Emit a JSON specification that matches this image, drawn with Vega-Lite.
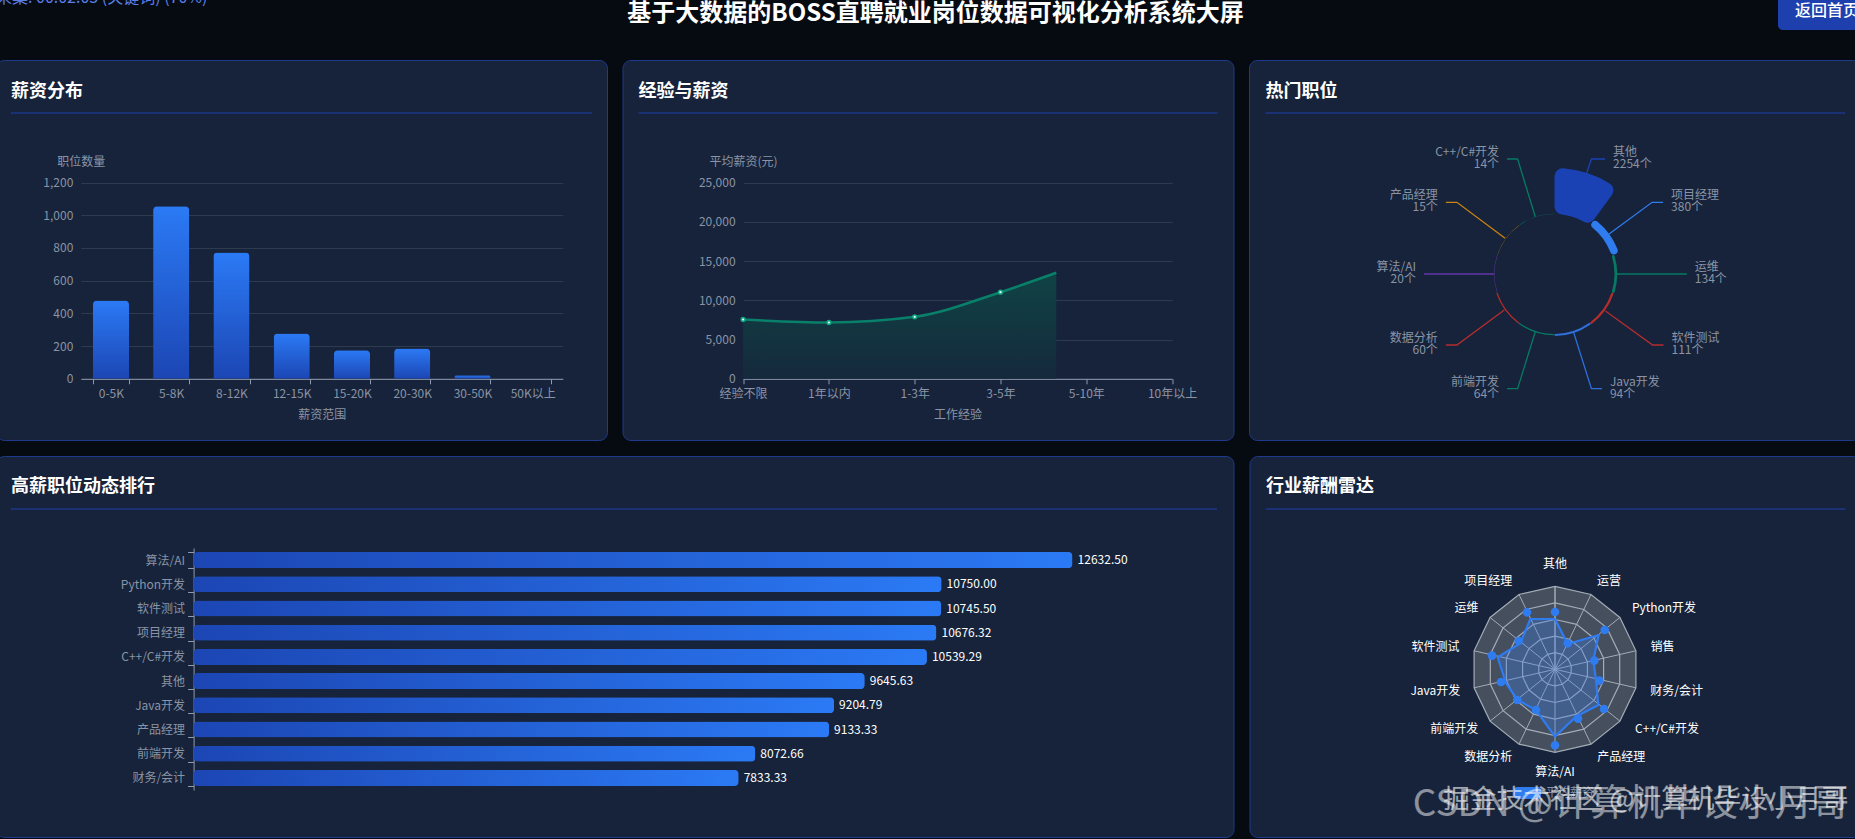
{
  "$schema": "https://vega.github.io/schema/vega-lite/v6.json",
  "background": "#060a11",
  "padding": {"left": -5, "right": -5, "top": 0, "bottom": 2},
  "config": {
    "font": "Noto Sans CJK SC",
    "view": {"stroke": null},
    "axis": {
      "labelColor": "#8a94a6", "titleColor": "#8a94a6", "labelFontSize": 12, "titleFontSize": 12,
      "titleFontWeight": "normal", "domainColor": "#8f9bb0", "tickColor": "#8f9bb0", "gridColor": "#2e3b4e",
      "labelOverlap": false, "labelFlush": false
    }
  },
  "datasets": {
    "radarGrid": [
      {"ring":1,"k":0,"x":0,"y":-16.6},{"ring":1,"k":1,"x":7.2,"y":-15},{"ring":1,"k":2,"x":13,"y":-10.4},{"ring":1,"k":3,"x":16.2,"y":-3.7},{"ring":1,"k":4,"x":16.2,"y":3.7},{"ring":1,"k":5,"x":13,"y":10.4},{"ring":1,"k":6,"x":7.2,"y":15},{"ring":1,"k":7,"x":0,"y":16.6},{"ring":1,"k":8,"x":-7.2,"y":15},{"ring":1,"k":9,"x":-13,"y":10.4},{"ring":1,"k":10,"x":-16.2,"y":3.7},{"ring":1,"k":11,"x":-16.2,"y":-3.7},{"ring":1,"k":12,"x":-13,"y":-10.4},{"ring":1,"k":13,"x":-7.2,"y":-15},{"ring":1,"k":14,"x":0,"y":-16.6},
      {"ring":2,"k":0,"x":0,"y":-33.2},{"ring":2,"k":1,"x":14.4,"y":-29.9},{"ring":2,"k":2,"x":26,"y":-20.7},{"ring":2,"k":3,"x":32.4,"y":-7.4},{"ring":2,"k":4,"x":32.4,"y":7.4},{"ring":2,"k":5,"x":26,"y":20.7},{"ring":2,"k":6,"x":14.4,"y":29.9},{"ring":2,"k":7,"x":0,"y":33.2},{"ring":2,"k":8,"x":-14.4,"y":29.9},{"ring":2,"k":9,"x":-26,"y":20.7},{"ring":2,"k":10,"x":-32.4,"y":7.4},{"ring":2,"k":11,"x":-32.4,"y":-7.4},{"ring":2,"k":12,"x":-26,"y":-20.7},{"ring":2,"k":13,"x":-14.4,"y":-29.9},{"ring":2,"k":14,"x":0,"y":-33.2},
      {"ring":3,"k":0,"x":0,"y":-49.8},{"ring":3,"k":1,"x":21.6,"y":-44.9},{"ring":3,"k":2,"x":38.9,"y":-31.1},{"ring":3,"k":3,"x":48.6,"y":-11.1},{"ring":3,"k":4,"x":48.6,"y":11.1},{"ring":3,"k":5,"x":38.9,"y":31.1},{"ring":3,"k":6,"x":21.6,"y":44.9},{"ring":3,"k":7,"x":0,"y":49.8},{"ring":3,"k":8,"x":-21.6,"y":44.9},{"ring":3,"k":9,"x":-38.9,"y":31.1},{"ring":3,"k":10,"x":-48.6,"y":11.1},{"ring":3,"k":11,"x":-48.6,"y":-11.1},{"ring":3,"k":12,"x":-38.9,"y":-31.1},{"ring":3,"k":13,"x":-21.6,"y":-44.9},{"ring":3,"k":14,"x":0,"y":-49.8},
      {"ring":4,"k":0,"x":0,"y":-66.4},{"ring":4,"k":1,"x":28.8,"y":-59.8},{"ring":4,"k":2,"x":51.9,"y":-41.4},{"ring":4,"k":3,"x":64.7,"y":-14.8},{"ring":4,"k":4,"x":64.7,"y":14.8},{"ring":4,"k":5,"x":51.9,"y":41.4},{"ring":4,"k":6,"x":28.8,"y":59.8},{"ring":4,"k":7,"x":0,"y":66.4},{"ring":4,"k":8,"x":-28.8,"y":59.8},{"ring":4,"k":9,"x":-51.9,"y":41.4},{"ring":4,"k":10,"x":-64.7,"y":14.8},{"ring":4,"k":11,"x":-64.7,"y":-14.8},{"ring":4,"k":12,"x":-51.9,"y":-41.4},{"ring":4,"k":13,"x":-28.8,"y":-59.8},{"ring":4,"k":14,"x":0,"y":-66.4},
      {"ring":5,"k":0,"x":0,"y":-83},{"ring":5,"k":1,"x":36,"y":-74.8},{"ring":5,"k":2,"x":64.9,"y":-51.8},{"ring":5,"k":3,"x":80.9,"y":-18.5},{"ring":5,"k":4,"x":80.9,"y":18.5},{"ring":5,"k":5,"x":64.9,"y":51.8},{"ring":5,"k":6,"x":36,"y":74.8},{"ring":5,"k":7,"x":0,"y":83},{"ring":5,"k":8,"x":-36,"y":74.8},{"ring":5,"k":9,"x":-64.9,"y":51.8},{"ring":5,"k":10,"x":-80.9,"y":18.5},{"ring":5,"k":11,"x":-80.9,"y":-18.5},{"ring":5,"k":12,"x":-64.9,"y":-51.8},{"ring":5,"k":13,"x":-36,"y":-74.8},{"ring":5,"k":14,"x":0,"y":-83}
    ],
    "radarSeries": [
      {"job":"其他","k":0,"lx":0,"ly":-50.3,"px":0,"py":-57.3},
      {"job":"运营","k":1,"lx":12.7,"ly":-25.3,"px":12.7,"py":-26},
      {"job":"Python开发","k":2,"lx":43.7,"ly":-34.3,"px":49.7,"py":-39.3},
      {"job":"销售","k":3,"lx":38.3,"ly":-9.3,"px":39.3,"py":-8.7},
      {"job":"财务/会计","k":4,"lx":41,"ly":10.7,"px":44.3,"py":11.3},
      {"job":"C++/C#开发","k":5,"lx":43.3,"ly":35.7,"px":49,"py":39.7},
      {"job":"产品经理","k":6,"lx":21,"ly":47.3,"px":23,"py":49.3},
      {"job":"算法/AI","k":7,"lx":0,"ly":67.3,"px":0,"py":76},
      {"job":"数据分析","k":8,"lx":-19,"ly":40.7,"px":-19,"py":40.7},
      {"job":"前端开发","k":9,"lx":-37.3,"ly":30.7,"px":-37.7,"py":30.7},
      {"job":"Java开发","k":10,"lx":-49,"ly":14,"px":-54,"py":12.7},
      {"job":"软件测试","k":11,"lx":-57.3,"ly":-12,"px":-63,"py":-13.7},
      {"job":"运维","k":12,"lx":-34.7,"ly":-26,"px":-36.3,"py":-28.3},
      {"job":"项目经理","k":13,"lx":-24.7,"ly":-50.3,"px":-28,"py":-57},
      {"job":"其他","k":14,"lx":0,"ly":-50.3,"px":0,"py":-57.3}
    ],
    "radarLabels": [
      {"job":"其他","x":0,"y":-105},{"job":"运营","x":54.1,"y":-88.7},{"job":"Python开发","x":109,"y":-61.7},{"job":"销售","x":107.5,"y":-22.7},
      {"job":"财务/会计","x":121.6,"y":21.3},{"job":"C++/C#开发","x":112,"y":60},{"job":"产品经理","x":66.3,"y":87.3},{"job":"算法/AI","x":0,"y":103},
      {"job":"数据分析","x":-66.7,"y":87.3},{"job":"前端开发","x":-100.8,"y":60},{"job":"Java开发","x":-119.6,"y":21.3},{"job":"软件测试","x":-119.6,"y":-22.7},
      {"job":"运维","x":-88.6,"y":-61.7},{"job":"项目经理","x":-66.7,"y":-88.7}
    ],
    "hotJobs": [
      {"job":"其他","postings":2254,"slot":0,"slotEnd":1},{"job":"项目经理","postings":380,"slot":1,"slotEnd":2},{"job":"运维","postings":134,"slot":2,"slotEnd":3},{"job":"软件测试","postings":111,"slot":3,"slotEnd":4},{"job":"Java开发","postings":94,"slot":4,"slotEnd":5},
      {"job":"前端开发","postings":64,"slot":5,"slotEnd":6},{"job":"数据分析","postings":60,"slot":6,"slotEnd":7},{"job":"算法/AI","postings":20,"slot":7,"slotEnd":8},{"job":"产品经理","postings":15,"slot":8,"slotEnd":9},{"job":"C++/C#开发","postings":14,"slot":9,"slotEnd":10}
    ],
    "hotLeaders": [
      {"job":"其他","ord":0,"x":32.4,"y":-100.7,"label":"其他\n2254个"},{"job":"其他","ord":1,"x":37.2,"y":-115,"label":"其他\n2254个"},{"job":"其他","ord":2,"x":51,"y":-115,"label":"其他\n2254个"},
      {"job":"项目经理","ord":0,"x":55,"y":-40,"label":"项目经理\n380个"},{"job":"项目经理","ord":1,"x":98.4,"y":-71.7,"label":"项目经理\n380个"},{"job":"项目经理","ord":2,"x":109.5,"y":-71.7,"label":"项目经理\n380个"},
      {"job":"运维","ord":0,"x":63,"y":0,"label":"运维\n134个"},{"job":"运维","ord":1,"x":122.3,"y":0,"label":"运维\n134个"},{"job":"运维","ord":2,"x":133.4,"y":0,"label":"运维\n134个"},
      {"job":"软件测试","ord":0,"x":51.4,"y":37,"label":"软件测试\n111个"},{"job":"软件测试","ord":1,"x":98.9,"y":71,"label":"软件测试\n111个"},{"job":"软件测试","ord":2,"x":109.9,"y":71,"label":"软件测试\n111个"},
      {"job":"Java开发","ord":0,"x":19.4,"y":58.7,"label":"Java开发\n94个"},{"job":"Java开发","ord":1,"x":37.2,"y":114.7,"label":"Java开发\n94个"},{"job":"Java开发","ord":2,"x":47.8,"y":114.7,"label":"Java开发\n94个"},
      {"job":"前端开发","ord":0,"x":-19.4,"y":57.7,"label":"前端开发\n64个"},{"job":"前端开发","ord":1,"x":-37.2,"y":114.7,"label":"前端开发\n64个"},{"job":"前端开发","ord":2,"x":-47.8,"y":114.7,"label":"前端开发\n64个"},
      {"job":"数据分析","ord":0,"x":-50.6,"y":36,"label":"数据分析\n60个"},{"job":"数据分析","ord":1,"x":-98.4,"y":71,"label":"数据分析\n60个"},{"job":"数据分析","ord":2,"x":-109.5,"y":71,"label":"数据分析\n60个"},
      {"job":"算法/AI","ord":0,"x":-60.9,"y":0,"label":"算法/AI\n20个"},{"job":"算法/AI","ord":1,"x":-122.1,"y":0,"label":"算法/AI\n20个"},{"job":"算法/AI","ord":2,"x":-131.6,"y":0,"label":"算法/AI\n20个"},
      {"job":"产品经理","ord":0,"x":-49.8,"y":-35.7,"label":"产品经理\n15个"},{"job":"产品经理","ord":1,"x":-98.4,"y":-71.7,"label":"产品经理\n15个"},{"job":"产品经理","ord":2,"x":-109.5,"y":-71.7,"label":"产品经理\n15个"},
      {"job":"C++/C#开发","ord":0,"x":-19.4,"y":-57.3,"label":"C++/C#开发\n14个"},{"job":"C++/C#开发","ord":1,"x":-37.2,"y":-115,"label":"C++/C#开发\n14个"},{"job":"C++/C#开发","ord":2,"x":-47.8,"y":-115,"label":"C++/C#开发\n14个"}
    ]
  },
  "spacing": 15,
  "vconcat": [
    {
      "width": 1865,
      "height": 44,
      "layer": [
        {
          "data": {"values": [{"text": "采集: 00:02:03 (关键词) (70%)"}]},
          "mark": {"type": "text", "align": "left", "baseline": "middle", "fontSize": 16, "color": "#5b7fe8", "clip": true},
          "encoding": {
            "x": {"datum": 0, "type": "quantitative", "scale": {"domain": [0, 1865]}, "axis": null},
            "y": {"datum": -2, "type": "quantitative", "scale": {"domain": [0, 44], "range": [0, 44]}, "axis": null},
            "text": {"field": "text"}
          }
        },
        {
          "data": {"values": [{"text": "基于大数据的BOSS直聘就业岗位数据可视化分析系统大屏"}]},
          "mark": {"type": "text", "align": "center", "baseline": "middle", "fontSize": 24, "fontWeight": "bold", "color": "#ffffff", "clip": true},
          "encoding": {
            "x": {"datum": 939.5, "type": "quantitative", "scale": {"domain": [0, 1865]}, "axis": null},
            "y": {"datum": 14, "type": "quantitative", "scale": {"domain": [0, 44], "range": [0, 44]}, "axis": null},
            "text": {"field": "text"}
          }
        },
        {
          "data": {"values": [{"text": "返回首页"}]},
          "mark": {"type": "rect", "color": "#1e40af", "cornerRadius": 5, "clip": true},
          "encoding": {
            "x": {"datum": 1782, "type": "quantitative", "scale": {"domain": [0, 1865]}, "axis": null},
            "x2": {"datum": 1885},
            "y": {"datum": -10, "type": "quantitative", "scale": {"domain": [0, 44], "range": [0, 44]}, "axis": null},
            "y2": {"datum": 30}
          }
        },
        {
          "data": {"values": [{"text": "返回首页"}]},
          "mark": {"type": "text", "align": "left", "baseline": "middle", "fontSize": 16, "fontWeight": 500, "color": "#ffffff", "clip": true},
          "encoding": {
            "x": {"datum": 1799, "type": "quantitative", "scale": {"domain": [0, 1865]}, "axis": null},
            "y": {"datum": 11, "type": "quantitative", "scale": {"domain": [0, 44], "range": [0, 44]}, "axis": null},
            "text": {"field": "text"}
          }
        }
      ]
    },
    {
      "spacing": 8,
      "vconcat": [
        {
          "spacing": 15.5,
          "bounds": "flush",
          "hconcat": [
            {
              "width": 611,
              "height": 380,
              "view": {"fill": "#16233a", "stroke": "#1e3a8a", "cornerRadius": 8},
              "resolve": {"scale": {"x": "independent", "y": "independent"}},
              "layer": [
                {
                  "data": {"values": [{"title": "薪资分布"}]},
                  "encoding": {
                    "x": {"datum": 0, "type": "quantitative", "scale": {"domain": [0, 1], "range": [15, 596]}, "axis": null},
                    "y": {"datum": 0, "type": "quantitative", "scale": {"domain": [0, 1], "range": [53, 32]}, "axis": null}
                  },
                  "layer": [
                    {"mark": {"type": "rule", "color": "#1e40af"}, "encoding": {"x2": {"datum": 1}}},
                    {"mark": {"type": "text", "align": "left", "baseline": "middle", "fontSize": 18, "fontWeight": "bold", "color": "#ffffff"}, "encoding": {"y": {"datum": 1, "type": "quantitative"}, "text": {"field": "title"}}}
                  ]
                },
                {
                  "data": {"values": [
                    {"range":"0-5K","jobs":478},{"range":"5-8K","jobs":1055},{"range":"8-12K","jobs":772},{"range":"12-15K","jobs":277},
                    {"range":"15-20K","jobs":175},{"range":"20-30K","jobs":185},{"range":"30-50K","jobs":22},{"range":"50K以上","jobs":0}
                  ]},
                  "mark": {
                    "type": "bar", "cornerRadiusTopLeft": 4, "cornerRadiusTopRight": 4,
                    "color": {"gradient": "linear", "x1": 0, "y1": 0, "x2": 0, "y2": 1, "stops": [{"offset": 0, "color": "#2b7af5"}, {"offset": 1, "color": "#1c46b4"}]}
                  },
                  "encoding": {
                    "x": {
                      "field": "range", "type": "nominal", "sort": null,
                      "scale": {"range": [84.8, 566.8], "paddingInner": 0.4, "paddingOuter": 0.2},
                      "axis": {"title": "薪资范围", "labelAngle": 0, "offset": -61.2, "tickBand": "extent", "tickSize": 5, "labelPadding": 5, "titlePadding": 10, "grid": false}
                    },
                    "y": {
                      "field": "jobs", "type": "quantitative",
                      "scale": {"domain": [0, 1200], "range": [318.8, 122.5], "nice": false},
                      "axis": {"title": "职位数量", "values": [0, 200, 400, 600, 800, 1000, 1200], "format": ",.0f", "offset": -84.8, "domain": false, "ticks": false, "grid": true, "labelPadding": 8, "titleAngle": 0, "titleAlign": "center", "titleBaseline": "middle", "titleX": 0, "titleY": 101.2}
                    }
                  }
                }
              ]
            },
            {
              "width": 611,
              "height": 380,
              "view": {"fill": "#16233a", "stroke": "#1e3a8a", "cornerRadius": 8},
              "resolve": {"scale": {"x": "independent", "y": "independent"}},
              "layer": [
                {
                  "data": {"values": [{"title": "经验与薪资"}]},
                  "encoding": {
                    "x": {"datum": 0, "type": "quantitative", "scale": {"domain": [0, 1], "range": [16, 595]}, "axis": null},
                    "y": {"datum": 0, "type": "quantitative", "scale": {"domain": [0, 1], "range": [53, 32]}, "axis": null}
                  },
                  "layer": [
                    {"mark": {"type": "rule", "color": "#1e40af"}, "encoding": {"x2": {"datum": 1}}},
                    {"mark": {"type": "text", "align": "left", "baseline": "middle", "fontSize": 18, "fontWeight": "bold", "color": "#ffffff"}, "encoding": {"y": {"datum": 1, "type": "quantitative"}, "text": {"field": "title"}}}
                  ]
                },
                {
                  "data": {"values": [
                    {"exp":"经验不限","step":0,"salary":7552},{"exp":"1年以内","step":1,"salary":7170},{"exp":"1-3年","step":2,"salary":7896},{"exp":"3-5年","step":3,"salary":11030},{"exp":"5-10年","step":3.65,"salary":13500}
                  ]},
                  "encoding": {
                    "x": {
                      "field": "step", "type": "quantitative",
                      "scale": {"domain": [0, 5], "range": [120.6, 549.6], "nice": false},
                      "axis": {"title": "工作经验", "values": [0, 1, 2, 3, 4, 5], "labelExpr": "['经验不限','1年以内','1-3年','3-5年','5-10年','10年以上'][datum.value]", "offset": -61.2, "tickSize": 5, "labelPadding": 5, "titlePadding": 10, "grid": false}
                    },
                    "y": {
                      "field": "salary", "type": "quantitative",
                      "scale": {"domain": [0, 25000], "range": [318.8, 122.5], "nice": false},
                      "axis": {"title": "平均薪资(元)", "values": [0, 5000, 10000, 15000, 20000, 25000], "format": ",.0f", "offset": -120.6, "domain": false, "ticks": false, "grid": true, "labelPadding": 8, "titleAngle": 0, "titleAlign": "center", "titleBaseline": "middle", "titleX": 0, "titleY": 101.2}
                    }
                  },
                  "layer": [
                    {
                      "mark": {
                        "type": "area", "interpolate": "monotone",
                        "color": {"gradient": "linear", "x1": 0, "y1": 0, "x2": 0, "y2": 1, "stops": [{"offset": 0, "color": "#0f4345"}, {"offset": 1, "color": "#15293c"}]}
                      }
                    },
                    {"mark": {"type": "line", "interpolate": "monotone", "color": "#08806a", "strokeWidth": 2.5}},
                    {"transform": [{"filter": "datum.step <= 3"}], "mark": {"type": "point", "filled": true, "color": "#12a585", "size": 28, "opacity": 1}},
                    {"transform": [{"filter": "datum.step <= 3"}], "mark": {"type": "point", "filled": true, "color": "#e8fff8", "size": 5, "opacity": 1}}
                  ]
                }
              ]
            },
            {
              "width": 611,
              "height": 380,
              "view": {"fill": "#16233a", "stroke": "#1e3a8a", "cornerRadius": 8},
              "resolve": {"scale": {"x": "independent", "y": "independent"}},
              "layer": [
                {
                  "data": {"values": [{"title": "热门职位"}]},
                  "encoding": {
                    "x": {"datum": 0, "type": "quantitative", "scale": {"domain": [0, 1], "range": [16.5, 596]}, "axis": null},
                    "y": {"datum": 0, "type": "quantitative", "scale": {"domain": [0, 1], "range": [53, 32]}, "axis": null}
                  },
                  "layer": [
                    {"mark": {"type": "rule", "color": "#1e40af"}, "encoding": {"x2": {"datum": 1}}},
                    {"mark": {"type": "text", "align": "left", "baseline": "middle", "fontSize": 18, "fontWeight": "bold", "color": "#ffffff"}, "encoding": {"y": {"datum": 1, "type": "quantitative"}, "text": {"field": "title"}}}
                  ]
                },
                {
                  "data": {"name": "hotJobs"},
                  "mark": {"type": "arc", "innerRadius": 60, "cornerRadius": 8},
                  "encoding": {
                    "y": {"datum": "center", "type": "nominal", "scale": {"domain": ["center"], "range": [214, 214]}, "axis": null},
                    "theta": {"field": "slot", "type": "quantitative", "stack": null, "scale": {"domain": [0, 10], "range": [0, 6.2832]}},
                    "theta2": {"field": "slotEnd"},
                    "radius": {"field": "postings", "type": "quantitative", "scale": {"type": "linear", "domain": [0, 2254], "range": [60, 106]}},
                    "color": {
                      "field": "job", "type": "nominal", "legend": null,
                      "scale": {
                        "domain": ["其他","项目经理","运维","软件测试","Java开发","前端开发","数据分析","算法/AI","产品经理","C++/C#开发"],
                        "range": ["#1a42b4","#2f7bf0","#077a64","#b52d2d","#2f6fd8","#077a64","#b52d2d","#6237a8","#c98412","#077a64"]
                      }
                    }
                  }
                },
                {
                  "data": {"name": "hotLeaders"},
                  "encoding": {
                    "x": {"field": "x", "type": "quantitative", "scale": {"domain": [-200, 200], "range": [107.1, 503.9]}, "axis": null},
                    "y": {"field": "y", "type": "quantitative", "scale": {"domain": [-200, 200], "range": [14, 414]}, "axis": null}
                  },
                  "layer": [
                    {
                      "mark": {"type": "line", "strokeWidth": 1.3},
                      "encoding": {
                        "order": {"field": "ord", "type": "quantitative"},
                        "color": {
                          "field": "job", "type": "nominal", "legend": null,
                          "scale": {
                            "domain": ["其他","项目经理","运维","软件测试","Java开发","前端开发","数据分析","算法/AI","产品经理","C++/C#开发"],
                            "range": ["#1a42b4","#2f7bf0","#077a64","#b52d2d","#2f6fd8","#077a64","#b52d2d","#6237a8","#c98412","#077a64"]
                          }
                        }
                      }
                    },
                    {
                      "transform": [{"filter": "datum.ord == 2 && datum.x > 0"}],
                      "mark": {"type": "text", "align": "left", "baseline": "middle", "dx": 8, "dy": -7, "fontSize": 12, "lineBreak": "\n", "lineHeight": 12, "color": "#8a94a6"},
                      "encoding": {"text": {"field": "label"}}
                    },
                    {
                      "transform": [{"filter": "datum.ord == 2 && datum.x < 0"}],
                      "mark": {"type": "text", "align": "right", "baseline": "middle", "dx": -8, "dy": -7, "fontSize": 12, "lineBreak": "\n", "lineHeight": 12, "color": "#8a94a6"},
                      "encoding": {"text": {"field": "label"}}
                    }
                  ]
                }
              ]
            }
          ]
        },
        {
          "spacing": 15.5,
          "bounds": "flush",
          "hconcat": [
            {
              "width": 1237.5,
              "height": 381,
              "view": {"fill": "#16233a", "stroke": "#1e3a8a", "cornerRadius": 8},
              "resolve": {"scale": {"x": "independent", "y": "independent"}},
              "layer": [
                {
                  "data": {"values": [{"title": "高薪职位动态排行"}]},
                  "encoding": {
                    "x": {"datum": 0, "type": "quantitative", "scale": {"domain": [0, 1], "range": [15, 1221]}, "axis": null},
                    "y": {"datum": 0, "type": "quantitative", "scale": {"domain": [0, 1], "range": [53, 31]}, "axis": null}
                  },
                  "layer": [
                    {"mark": {"type": "rule", "color": "#1e40af"}, "encoding": {"x2": {"datum": 1}}},
                    {"mark": {"type": "text", "align": "left", "baseline": "middle", "fontSize": 18, "fontWeight": "bold", "color": "#ffffff"}, "encoding": {"y": {"datum": 1, "type": "quantitative"}, "text": {"field": "title"}}}
                  ]
                },
                {
                  "data": {"values": [
                    {"job":"算法/AI","salary":12632.5},{"job":"Python开发","salary":10750},{"job":"软件测试","salary":10745.5},{"job":"项目经理","salary":10676.32},{"job":"C++/C#开发","salary":10539.29},
                    {"job":"其他","salary":9645.63},{"job":"Java开发","salary":9204.79},{"job":"产品经理","salary":9133.33},{"job":"前端开发","salary":8072.66},{"job":"财务/会计","salary":7833.33}
                  ]},
                  "encoding": {
                    "x": {"field": "salary", "type": "quantitative", "scale": {"domain": [0, 12632.5], "range": [197.6, 1076.6], "nice": false}, "axis": null},
                    "y": {
                      "field": "job", "type": "nominal", "sort": null,
                      "scale": {"range": [92, 334], "paddingInner": 0.34, "paddingOuter": 0.17},
                      "axis": {"title": null, "offset": -197.6, "tickBand": "extent", "tickSize": 6, "labelPadding": 3, "grid": false}
                    }
                  },
                  "layer": [
                    {
                      "mark": {
                        "type": "bar", "cornerRadius": 4,
                        "color": {"gradient": "linear", "x1": 0, "y1": 0, "x2": 1, "y2": 0, "stops": [{"offset": 0, "color": "#1c46b4"}, {"offset": 1, "color": "#2b7af5"}]}
                      }
                    },
                    {
                      "mark": {"type": "text", "align": "left", "baseline": "middle", "dx": 5, "fontSize": 12, "color": "#ffffff"},
                      "encoding": {"text": {"field": "salary", "type": "quantitative", "format": ".2f"}}
                    }
                  ]
                }
              ]
            },
            {
              "width": 611,
              "height": 381,
              "view": {"fill": "#16233a", "stroke": "#1e3a8a", "cornerRadius": 8},
              "resolve": {"scale": {"x": "independent", "y": "independent"}},
              "layer": [
                {
                  "data": {"values": [{"title": "行业薪酬雷达"}]},
                  "encoding": {
                    "x": {"datum": 0, "type": "quantitative", "scale": {"domain": [0, 1], "range": [16.5, 596]}, "axis": null},
                    "y": {"datum": 0, "type": "quantitative", "scale": {"domain": [0, 1], "range": [53, 31]}, "axis": null}
                  },
                  "layer": [
                    {"mark": {"type": "rule", "color": "#1e40af"}, "encoding": {"x2": {"datum": 1}}},
                    {"mark": {"type": "text", "align": "left", "baseline": "middle", "fontSize": 18, "fontWeight": "bold", "color": "#ffffff"}, "encoding": {"y": {"datum": 1, "type": "quantitative"}, "text": {"field": "title"}}}
                  ]
                },
                {
                  "layer": [
                    {
                      "data": {"name": "radarGrid"},
                      "transform": [{"filter": "datum.ring == 5"}],
                      "mark": {"type": "line", "fill": "#454f5e", "stroke": "#454f5e", "strokeWidth": 0},
                      "encoding": {
                        "x": {"field": "x", "type": "quantitative", "scale": {"domain": [-200, 200], "range": [105.5, 505.5]}, "axis": null},
                        "y": {"field": "y", "type": "quantitative", "scale": {"domain": [-200, 200], "range": [13.3, 413.3]}, "axis": null},
                        "order": {"field": "k", "type": "quantitative"}
                      }
                    },
                    {
                      "data": {"name": "radarGrid"},
                      "transform": [{"filter": "datum.ring == 5"}],
                      "mark": {"type": "rule", "color": "#a3abb6", "strokeWidth": 1},
                      "encoding": {
                        "x": {"field": "x", "type": "quantitative", "scale": {"domain": [-200, 200], "range": [105.5, 505.5]}, "axis": null},
                        "y": {"field": "y", "type": "quantitative", "scale": {"domain": [-200, 200], "range": [13.3, 413.3]}, "axis": null},
                        "x2": {"datum": 0},
                        "y2": {"datum": 0}
                      }
                    },
                    {
                      "data": {"name": "radarGrid"},
                      "mark": {"type": "line", "color": "#a3abb6", "strokeWidth": 1.2},
                      "encoding": {
                        "x": {"field": "x", "type": "quantitative", "scale": {"domain": [-200, 200], "range": [105.5, 505.5]}, "axis": null},
                        "y": {"field": "y", "type": "quantitative", "scale": {"domain": [-200, 200], "range": [13.3, 413.3]}, "axis": null},
                        "detail": {"field": "ring", "type": "nominal"},
                        "order": {"field": "k", "type": "quantitative"}
                      }
                    },
                    {
                      "data": {"name": "radarSeries"},
                      "mark": {"type": "line", "fill": "#3b82f6", "fillOpacity": 0.3, "stroke": "#2f7bf0", "strokeWidth": 2.2},
                      "encoding": {
                        "x": {"field": "lx", "type": "quantitative", "scale": {"domain": [-200, 200], "range": [105.5, 505.5]}, "axis": null},
                        "y": {"field": "ly", "type": "quantitative", "scale": {"domain": [-200, 200], "range": [13.3, 413.3]}, "axis": null},
                        "order": {"field": "k", "type": "quantitative"}
                      }
                    },
                    {
                      "data": {"name": "radarSeries"},
                      "transform": [{"filter": "datum.k < 14"}],
                      "mark": {"type": "point", "filled": true, "color": "#2f7bf0", "size": 75, "opacity": 1},
                      "encoding": {
                        "x": {"field": "px", "type": "quantitative", "scale": {"domain": [-200, 200], "range": [105.5, 505.5]}, "axis": null},
                        "y": {"field": "py", "type": "quantitative", "scale": {"domain": [-200, 200], "range": [13.3, 413.3]}, "axis": null}
                      }
                    },
                    {
                      "data": {"name": "radarLabels"},
                      "mark": {"type": "text", "align": "center", "baseline": "middle", "fontSize": 12, "color": "#ffffff"},
                      "encoding": {
                        "x": {"field": "x", "type": "quantitative", "scale": {"domain": [-200, 200], "range": [105.5, 505.5]}, "axis": null},
                        "y": {"field": "y", "type": "quantitative", "scale": {"domain": [-200, 200], "range": [13.3, 413.3]}, "axis": null},
                        "text": {"field": "job"}
                      }
                    },
                    {
                      "data": {"values": [{"series": "平均薪资"}]},
                      "mark": {"type": "rect", "color": "#2f7bf0", "cornerRadius": 3},
                      "encoding": {
                        "x": {"datum": -41, "type": "quantitative", "scale": {"domain": [-200, 200], "range": [105.5, 505.5]}, "axis": null},
                        "x2": {"datum": -14},
                        "y": {"datum": 117.7, "type": "quantitative", "scale": {"domain": [-200, 200], "range": [13.3, 413.3]}, "axis": null},
                        "y2": {"datum": 129.7}
                      }
                    },
                    {
                      "data": {"values": [{"series": "平均薪资"}]},
                      "mark": {"type": "text", "align": "left", "baseline": "middle", "fontSize": 12, "color": "#8a94a6"},
                      "encoding": {
                        "x": {"datum": -9, "type": "quantitative", "scale": {"domain": [-200, 200], "range": [105.5, 505.5]}, "axis": null},
                        "y": {"datum": 123.7, "type": "quantitative", "scale": {"domain": [-200, 200], "range": [13.3, 413.3]}, "axis": null},
                        "text": {"field": "series"}
                      }
                    },
                    {
                      "data": {"values": [{"mark": "CSDN @计算机毕设小月哥"}]},
                      "mark": {"type": "text", "align": "right", "baseline": "middle", "fontSize": 37, "color": "#ffffff", "opacity": 0.5},
                      "encoding": {
                        "x": {"datum": 294, "type": "quantitative", "scale": {"domain": [-200, 200], "range": [105.5, 505.5]}, "axis": null},
                        "y": {"datum": 135.7, "type": "quantitative", "scale": {"domain": [-200, 200], "range": [13.3, 413.3]}, "axis": null},
                        "text": {"field": "mark"}
                      }
                    },
                    {
                      "data": {"values": [{"mark": "掘金技术社区 @计算机毕设小月哥"}]},
                      "mark": {"type": "text", "align": "right", "baseline": "middle", "fontSize": 26.7, "color": "#ffffff", "opacity": 0.6},
                      "encoding": {
                        "x": {"datum": 293, "type": "quantitative", "scale": {"domain": [-200, 200], "range": [105.5, 505.5]}, "axis": null},
                        "y": {"datum": 130.7, "type": "quantitative", "scale": {"domain": [-200, 200], "range": [13.3, 413.3]}, "axis": null},
                        "text": {"field": "mark"}
                      }
                    }
                  ]
                }
              ]
            }
          ]
        }
      ]
    }
  ]
}
